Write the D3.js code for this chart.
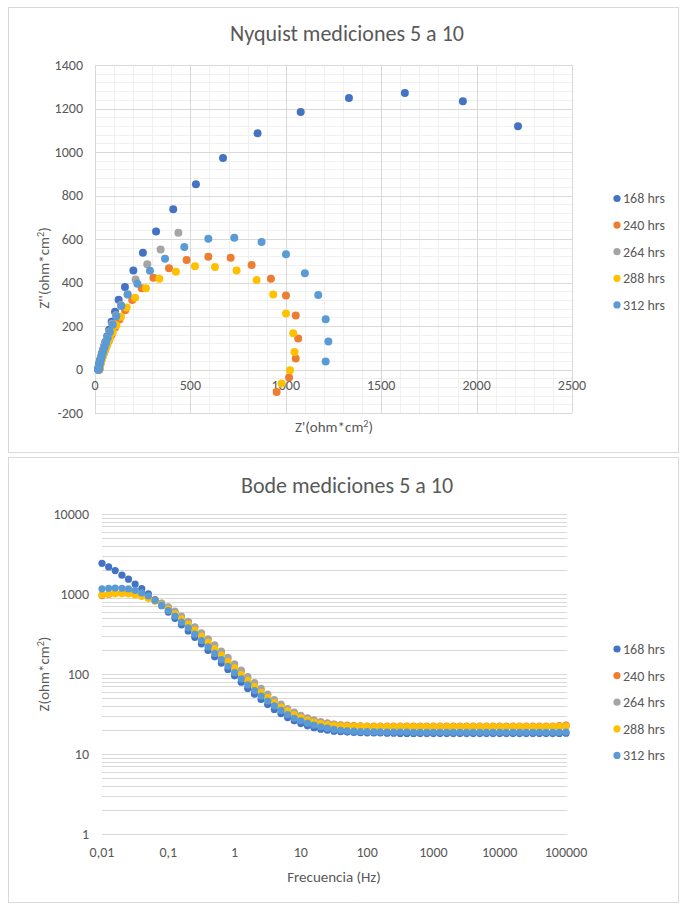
<!DOCTYPE html>
<html>
<head>
<meta charset="utf-8">
<script src="https://cdn.jsdelivr.net/npm/d3@7"></script>
<style>
  html, body { margin: 0; padding: 0; background: #ffffff; }
  svg { display: block; }
  text { font-family: Carlito, Calibri, Lato, "Open Sans", sans-serif; fill: #595959; }
</style>
</head>
<body>
<svg id="chart" width="681" height="905"></svg>
<script>
// ---- Series labels and colours ----
const seriesNames = ["168 hrs", "240 hrs", "264 hrs", "288 hrs", "312 hrs"];
const seriesColors = ["#4472C4", "#ED7D31", "#A5A5A5", "#FFC000", "#5B9BD5"];

// ---- Nyquist data: Z' (real) and Z'' (imaginary), ohm*cm², low to high frequency ----
const nyqRe168 = [2217, 1928, 1624, 1331, 1078, 852, 671, 529, 410, 320, 251, 201, 157, 124, 105, 87, 74, 63, 54, 47, 41, 36, 32, 28.5, 26, 24, 22.5, 21.3, 20.4, 19.8, 19.3, 19, 18.8, 18.6, 18.5, 18.4, 18.3, 18.2, 18.1, 18.1, 18, 18];
const nyqIm168 = [1118, 1233, 1271, 1248, 1184, 1086, 972, 852, 737, 635, 537, 455, 379, 321, 265, 219, 183, 152, 127, 106, 88, 73, 60, 50, 41, 33, 27, 21, 16, 12, 9, 7, 5, 4, 3, 2, 1.5, 1, 0.5, 0, -0.5, -1];

const nyqRe240 = [952, 1017, 1052, 1065, 1052, 1001, 922, 821, 711, 594, 480, 388, 306, 245, 195, 158, 128, 105, 87, 73, 62, 53, 46, 40, 35.5, 32, 29.5, 27.5, 26, 24.8, 24, 23.4, 23, 22.7, 22.5, 22.4, 22.3, 22.3];
const nyqIm240 = [-103, -37, 51, 143, 248, 340, 417, 480, 514, 518, 503, 465, 422, 373, 320, 272, 230, 193, 160, 133, 110, 90, 74, 60, 48, 38, 30, 23, 17, 13, 9, 6, 4, 2.5, 1.5, 0.5, 0, -0.5];

const nyqRe264 = [437, 344, 274, 213, 171, 136, 110, 90, 75, 63, 53, 45.5, 39.5, 35, 31.5, 28.7, 26.6, 25, 23.8, 23, 22.4, 22, 21.8, 21.7, 21.6];
const nyqIm264 = [629, 552, 484, 414, 346, 296, 250, 210, 175, 146, 121, 100, 82, 66, 53, 42, 33, 25, 19, 14, 10, 6.5, 4, 2, 0.5];

const nyqRe288 = [978, 1022, 1046, 1039, 1001, 934, 847, 742, 629, 524, 424, 337, 267, 210, 166, 136, 112, 93, 78, 66, 56, 48, 42, 37, 33, 30, 28, 26.3, 25, 24, 23.3, 22.8, 22.5, 22.3, 22.1, 22, 22];
const nyqIm288 = [-64, -3, 80, 167, 258, 345, 411, 455, 471, 475, 449, 417, 373, 330, 285, 242, 203, 170, 141, 117, 96, 79, 64, 52, 42, 33, 26, 20, 15, 11, 8, 5.5, 3.5, 2, 1, 0, -0.5];

const nyqRe312 = [1209, 1223, 1209, 1170, 1100, 1001, 873, 730, 594, 468, 367, 288, 222, 171, 138, 112, 93, 78, 67, 58, 50, 44, 39, 35, 31.5, 28.5, 26.3, 24.5, 23, 21.8, 21, 20.3, 19.8, 19.4, 19.2, 19, 18.9, 18.8, 18.8, 18.7, 18.7];
const nyqIm312 = [37, 129, 231, 342, 443, 530, 586, 606, 601, 563, 509, 454, 394, 345, 292, 245, 206, 172, 145, 122, 102, 85, 71, 59, 49, 40, 33, 27, 22, 17, 13, 10, 7.5, 5.5, 4, 3, 2, 1, 0.5, 0, -0.5];

// ---- Bode data: frequency (Hz) and |Z| (ohm*cm²) ----
const frequencies = [
  0.01, 0.0126, 0.0158, 0.02, 0.0251, 0.0316, 0.0398, 0.0501, 0.0631, 0.0794,
  0.1, 0.126, 0.158, 0.2, 0.251, 0.316, 0.398, 0.501, 0.631, 0.794,
  1, 1.26, 1.58, 2, 2.51, 3.16, 3.98, 5.01, 6.31, 7.94,
  10, 12.6, 15.8, 20, 25.1, 31.6, 39.8, 50.1, 63.1, 79.4,
  100, 126, 158, 200, 251, 316, 398, 501, 631, 794,
  1000, 1259, 1585, 1995, 2512, 3162, 3981, 5012, 6310, 7943,
  10000, 12589, 15849, 19953, 25119, 31623, 39811, 50119, 63096, 79433,
  100000
];

const bode168 = [
  2420, 2180, 1960, 1720, 1530, 1330, 1165, 1005, 850, 715,
  595, 497, 412, 345, 287, 238, 197, 164, 137, 114,
  95, 79, 66, 56, 48, 41.5, 36, 32, 28.5, 26,
  24, 22.5, 21.3, 20.4, 19.8, 19.3, 19, 18.8, 18.6, 18.5,
  18.4, 18.3, 18.3, 18.2, 18.2, 18.1, 18.1, 18.1, 18, 18,
  18, 18, 18, 18, 18, 18, 18, 18, 18, 18,
  18, 18, 18, 18, 18, 18, 18, 18, 18, 18.1,
  18.2
];
const bode240 = [
  955, 995, 1020, 1030, 1025, 1005, 965, 910, 845, 765,
  680, 600, 520, 448, 382, 322, 270, 226, 188, 157,
  131, 109, 91, 76, 64, 55, 47, 41, 36.5, 33,
  30, 28, 26.5, 25.3, 24.4, 23.7, 23.2, 22.9, 22.7, 22.5,
  22.4, 22.3, 22.3, 22.3, 22.3, 22.3, 22.3, 22.3, 22.3, 22.3,
  22.3, 22.3, 22.3, 22.3, 22.3, 22.3, 22.3, 22.3, 22.3, 22.3,
  22.3, 22.3, 22.3, 22.3, 22.3, 22.3, 22.3, 22.3, 22.4, 22.6,
  22.9
];
const bode264 = [
  null, null, null, null, null, null, null, null, null, 770,
  690, 610, 530, 455, 388, 328, 276, 231, 193, 161,
  134, 112, 93, 78, 66, 56, 48, 42, 37, 33.5,
  30.5, 28.3, 26.6, 25.3, 24.3, 23.5, 22.9, 22.5, 22.2, 22,
  21.8, 21.7, 21.7, 21.7, 21.7, 21.6, 21.6, 21.6, 21.6, 21.6,
  21.6, 21.6, 21.6, 21.6, 21.6, 21.6, 21.6, 21.6, 21.6, 21.6,
  21.6, 21.6, 21.6, 21.6, 21.6, 21.6, 21.6, 21.6, 21.7, 21.8,
  21.9
];
const bode288 = [
  975, 1000, 1010, 1010, 1000, 975, 935, 880, 810, 730,
  648, 565, 488, 418, 355, 298, 249, 207, 172, 143,
  119, 99, 83, 70, 59, 51, 44, 38.5, 34.5, 31,
  28.5, 26.5, 25, 24, 23.3, 22.8, 22.5, 22.3, 22.2, 22.1,
  22, 22, 22, 22, 22, 22, 22, 22, 22, 22,
  22, 22, 22, 22, 22, 22, 22, 22, 22, 22,
  22, 22, 22, 22, 22, 22, 22, 22, 22, 22.1,
  22.3
];
const bode312 = [
  1160, 1180, 1185, 1180, 1160, 1110, 1030, 945, 830, 720,
  620, 530, 445, 378, 315, 262, 218, 181, 151, 125,
  104, 87, 73, 62, 53, 46, 40, 35, 31, 28,
  26, 24.3, 23, 21.9, 21, 20.3, 19.8, 19.5, 19.3, 19.1,
  19, 18.9, 18.9, 18.8, 18.8, 18.8, 18.8, 18.7, 18.7, 18.7,
  18.7, 18.7, 18.7, 18.7, 18.7, 18.7, 18.7, 18.7, 18.7, 18.7,
  18.7, 18.7, 18.7, 18.7, 18.7, 18.7, 18.7, 18.7, 18.7, 18.7,
  18.8
];

// ---- Axis tick labels ----
const nyqXTicks = [0, 500, 1000, 1500, 2000, 2500];
const nyqYTicks = [-200, 0, 200, 400, 600, 800, 1000, 1200, 1400];
const bodeXTicks = [0.01, 0.1, 1, 10, 100, 1000, 10000, 100000];
const bodeXTickLabels = ["0,01", "0,1", "1", "10", "100", "1000", "10000", "100000"];
const bodeYTicks = [1, 10, 100, 1000, 10000];

const nyqRe = [nyqRe168, nyqRe240, nyqRe264, nyqRe288, nyqRe312];
const nyqIm = [nyqIm168, nyqIm240, nyqIm264, nyqIm288, nyqIm312];
const bodeZ = [bode168, bode240, bode264, bode288, bode312];

const TICK_FS = 14, AXIS_FS = 15, TITLE_FS = 22, LEGEND_FS = 14;

const svg = d3.select("#chart");

// Chart frames
svg.append("rect").attr("x", 8.5).attr("y", 7.5).attr("width", 670).attr("height", 445)
  .attr("fill", "#fff").attr("stroke", "#d9d9d9");
svg.append("rect").attr("x", 8.5).attr("y", 457.5).attr("width", 670).attr("height", 445)
  .attr("fill", "#fff").attr("stroke", "#d9d9d9");

function axisTitle(sel, main) {
  sel.append("tspan").text(main);
  sel.append("tspan").attr("font-size", AXIS_FS * 0.68).attr("dy", "-0.5em").text("2");
  sel.append("tspan").attr("dy", "0.34em").text(")");
}

// ================= Nyquist =================
const xN = d3.scaleLinear().domain([0, 2500]).range([95, 572]);
const yN = d3.scaleLinear().domain([-200, 1400]).range([413, 65]);
const gN = svg.append("g");

// minor grid
gN.append("g").selectAll("line").data(d3.range(0, 2501, 100).filter(v => v % 500 !== 0))
  .join("line").attr("x1", d => Math.round(xN(d)) + 0.5).attr("x2", d => Math.round(xN(d)) + 0.5)
  .attr("y1", yN(-200)).attr("y2", yN(1400)).attr("stroke", "#f0f0f0");
gN.append("g").selectAll("line").data(d3.range(-200, 1401, 40).filter(v => v % 200 !== 0))
  .join("line").attr("y1", d => Math.round(yN(d)) + 0.5).attr("y2", d => Math.round(yN(d)) + 0.5)
  .attr("x1", xN(0)).attr("x2", xN(2500)).attr("stroke", "#f0f0f0");
// major grid
gN.append("g").selectAll("line").data(nyqXTicks)
  .join("line").attr("x1", d => Math.round(xN(d)) + 0.5).attr("x2", d => Math.round(xN(d)) + 0.5)
  .attr("y1", yN(-200)).attr("y2", yN(1400)).attr("stroke", "#d9d9d9");
gN.append("g").selectAll("line").data(nyqYTicks)
  .join("line").attr("y1", d => Math.round(yN(d)) + 0.5).attr("y2", d => Math.round(yN(d)) + 0.5)
  .attr("x1", xN(0)).attr("x2", xN(2500)).attr("stroke", "#d9d9d9");

// tick labels
gN.append("g").selectAll("text").data(nyqYTicks).join("text")
  .attr("x", 83).attr("y", d => yN(d)).attr("dy", "0.35em")
  .attr("text-anchor", "end").attr("font-size", TICK_FS).text(d => d);
gN.append("g").selectAll("text").data(nyqXTicks).join("text")
  .attr("x", d => xN(d)).attr("y", yN(0) + 16).attr("dy", "0.35em")
  .attr("text-anchor", "middle").attr("font-size", TICK_FS).text(d => d);

// titles
svg.append("text").attr("x", 347).attr("y", 33).attr("dy", "0.35em").attr("text-anchor", "middle")
  .attr("font-size", TITLE_FS).text("Nyquist mediciones 5 a 10");
axisTitle(svg.append("text").attr("x", 334).attr("y", 427).attr("dy", "0.35em")
  .attr("text-anchor", "middle").attr("font-size", AXIS_FS), "Z'(ohm*cm");
axisTitle(svg.append("text").attr("transform", "translate(44,268) rotate(-90)")
  .attr("text-anchor", "middle").attr("dy", "0.35em").attr("font-size", AXIS_FS), "Z''(ohm*cm");

// points
seriesNames.forEach((name, s) => {
  const pts = nyqRe[s].map((re, i) => ({ re, im: nyqIm[s][i] }));
  gN.append("g").selectAll("circle").data(pts).join("circle")
    .attr("cx", d => xN(d.re)).attr("cy", d => yN(d.im)).attr("r", 4)
    .attr("fill", seriesColors[s]);
});

// ================= Bode =================
const xB = d3.scaleLog().domain([0.01, 100000]).range([102, 566]);
const yB = d3.scaleLog().domain([1, 10000]).range([834, 514]);
const gB = svg.append("g");

const bodeGrid = [];
for (let dec = 1; dec < 10000; dec *= 10) {
  for (let m = 1; m < 10; m++) bodeGrid.push(dec * m);
}
bodeGrid.push(10000);
gB.append("g").selectAll("line").data(bodeGrid).join("line")
  .attr("x1", xB(0.01)).attr("x2", xB(100000) + 1)
  .attr("y1", d => Math.round(yB(d)) + 0.5).attr("y2", d => Math.round(yB(d)) + 0.5)
  .attr("stroke", "#d9d9d9");

gB.append("g").selectAll("text").data(bodeYTicks).join("text")
  .attr("x", 89).attr("y", d => yB(d)).attr("dy", "0.35em")
  .attr("text-anchor", "end").attr("font-size", TICK_FS).text(d => d);
gB.append("g").selectAll("text").data(bodeXTicks).join("text")
  .attr("x", d => xB(d)).attr("y", 852).attr("dy", "0.35em")
  .attr("text-anchor", "middle").attr("font-size", TICK_FS).text((d, i) => bodeXTickLabels[i]);

svg.append("text").attr("x", 347).attr("y", 485).attr("dy", "0.35em").attr("text-anchor", "middle")
  .attr("font-size", TITLE_FS).text("Bode mediciones 5 a 10");
svg.append("text").attr("x", 334).attr("y", 877).attr("dy", "0.35em").attr("text-anchor", "middle")
  .attr("font-size", AXIS_FS).text("Frecuencia (Hz)");
axisTitle(svg.append("text").attr("transform", "translate(44,674) rotate(-90)")
  .attr("text-anchor", "middle").attr("dy", "0.35em").attr("font-size", AXIS_FS), "Z(ohm*cm");

seriesNames.forEach((name, s) => {
  const pts = frequencies.map((f, i) => ({ f, z: bodeZ[s][i] })).filter(d => d.z != null);
  gB.append("g").selectAll("circle").data(pts).join("circle")
    .attr("cx", d => xB(d.f)).attr("cy", d => yB(d.z)).attr("r", 3.6)
    .attr("fill", seriesColors[s]);
});

// ================= Legends =================
function legend(y0) {
  const g = svg.append("g");
  seriesNames.forEach((name, s) => {
    const y = y0 + s * 26.6;
    g.append("circle").attr("cx", 617).attr("cy", y).attr("r", 3.6).attr("fill", seriesColors[s]);
    g.append("text").attr("x", 623).attr("y", y).attr("dy", "0.35em").attr("font-size", LEGEND_FS).text(name);
  });
}
legend(198.5);
legend(649);
</script>
</body>
</html>
